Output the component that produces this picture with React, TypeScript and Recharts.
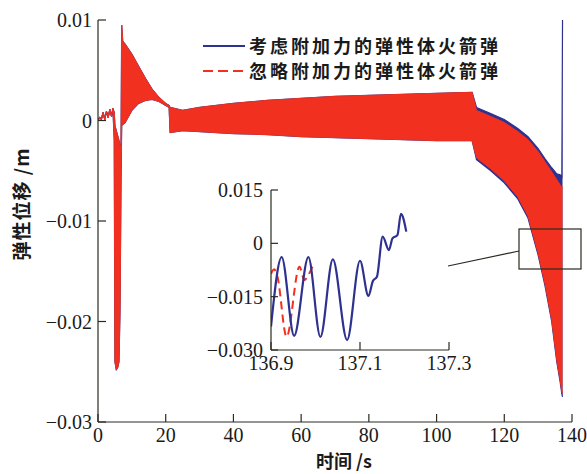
import React from 'react';
import { ComposedChart, Area, XAxis, YAxis, LineChart, Line } from 'recharts';

// ---------- main chart data (envelopes of the oscillating responses) ----------
const times = [0, 0.5, 1.0, 1.5, 2.0, 2.5, 3.0, 3.5, 4.0, 4.4, 4.8, 5.0, 5.4, 5.8, 6.2, 6.5, 6.8, 7.0, 7.3, 8, 10, 12, 14, 16, 18, 20, 21, 21.3, 25, 30, 40, 50, 60, 70, 80, 90, 100, 110.5, 111.8, 116, 120, 124, 127, 130, 132, 134, 135.5, 136.5, 137.0, 137.2];
const redHi = [0, 0.0003, 0.0001, 0.0008, 0.0001, 0.0009, 0.0003, 0.0011, 0.0004, 0.0012, 0.0008, -0.0005, -0.001, -0.0015, -0.002, -0.0025, -0.0025, 0.0095, 0.0079, 0.0076, 0.0066, 0.0054, 0.0042, 0.0031, 0.0023, 0.0017, 0.0015, 0.0013, 0.001, 0.0013, 0.0017, 0.002, 0.0022, 0.0024, 0.0025, 0.0026, 0.0027, 0.0028, 0.001, 0.0004, -0.0002, -0.0011, -0.0019, -0.0031, -0.0041, -0.0051, -0.0059, -0.0064, -0.0066, -0.0066];
const redLo = [0, 0.0003, 0.0001, 0.0008, 0.0001, 0.0009, 0.0003, 0.0011, 0.0004, 0.0012, -0.002, -0.024, -0.0248, -0.0246, -0.024, -0.019, -0.006, -0.0005, -0.0004, -0.0002, 0.001, 0.0017, 0.002, 0.0021, 0.0019, 0.0015, 0.0013, -0.0012, -0.001, -0.0011, -0.0013, -0.0014, -0.0016, -0.0017, -0.0018, -0.0019, -0.002, -0.002, -0.0037, -0.0048, -0.006, -0.0076, -0.0095, -0.0132, -0.0162, -0.0198, -0.0238, -0.0258, -0.027, -0.0272];
const blueHi = [0, 0.0003, 0.0001, 0.0008, 0.0001, 0.0009, 0.0003, 0.0011, 0.0004, 0.0012, 0.0008, -0.0005, -0.001, -0.0015, -0.002, -0.0025, -0.0025, 0.0095, 0.0079, 0.0076, 0.0066, 0.0054, 0.0042, 0.0031, 0.0023, 0.0017, 0.0015, 0.0013, 0.001, 0.0013, 0.0017, 0.002, 0.0022, 0.0024, 0.0025, 0.0026, 0.0027, 0.0028, 0.0013, 0.0007, 0.0001, -0.0008, -0.0016, -0.0028, -0.0038, -0.0047, -0.0053, -0.0054, -0.0056, 0.01];
const blueLo = [0, 0.0003, 0.0001, 0.0008, 0.0001, 0.0009, 0.0003, 0.0011, 0.0004, 0.0012, -0.002, -0.024, -0.0248, -0.0246, -0.024, -0.019, -0.006, -0.0005, -0.0004, -0.0002, 0.001, 0.0017, 0.002, 0.0021, 0.0019, 0.0015, 0.0013, -0.0012, -0.001, -0.0011, -0.0013, -0.0014, -0.0016, -0.0017, -0.0018, -0.0019, -0.002, -0.002, -0.0039, -0.005, -0.0062, -0.0078, -0.0097, -0.0134, -0.0164, -0.02, -0.024, -0.026, -0.0272, -0.0275];

const xTicks = [0, 20, 40, 60, 80, 100, 120, 140];
const yTicks = [-0.03, -0.02, -0.01, 0, 0.01];
const yTickLabels = ['\u22120.03', '\u22120.02', '\u22120.01', '0', '0.01'];

// ---------- inset data ----------
const insetBlueT = [136.9, 136.924, 136.952, 136.984, 137.011, 137.039, 137.071, 137.1, 137.119, 137.129, 137.138, 137.151, 137.165, 137.173, 137.184, 137.192, 137.204];
const insetBlueV = [-0.0234, -0.0039, -0.026, -0.0039, -0.0263, -0.0045, -0.0272, -0.0049, -0.0148, -0.0106, -0.0094, 0.0019, -0.0019, 0.0014, 0.0023, 0.0083, 0.0033];
const insetRedT = [136.9, 136.907, 136.914, 136.935, 136.964, 136.975, 136.984, 136.994];
const insetRedV = [-0.0086, -0.0073, -0.0091, -0.0263, -0.0066, -0.0103, -0.0089, -0.0063];

const insetXTicks = [136.9, 137.1, 137.3];
const insetXLabels = ['136.9', '137.1', '137.3'];
const insetYTicks = [-0.03, -0.015, 0, 0.015];
const insetYLabels = ['\u22120.030', '\u22120.015', '0', '0.015'];

const legendNames = ['考虑附加力的弹性体火箭弹', '忽略附加力的弹性体火箭弹'];

const RED = '#f2301f';
const BLUE = '#2e3190';
const AXIS = '#2a2a22';
const SERIF = "'Liberation Serif', 'DejaVu Serif', serif";
const CJK = "'Noto Sans CJK SC', 'Noto Sans', sans-serif";

const mainData = times.map((t, i) => ({ t, red: [redLo[i], redHi[i]], blue: [blueLo[i], blueHi[i]] }));
const insetBlue = insetBlueT.map((t, i) => ({ t, v: insetBlueV[i] }));
const insetRed = insetRedT.map((t, i) => ({ t, v: insetRedV[i] }));

const makeXTick = (labels: string[] | null, ticks: number[], len: number) => (props: any) => {
  const { x, y, payload } = props;
  const idx = ticks.indexOf(payload.value);
  const label = labels ? labels[idx] : String(payload.value);
  return (
    <g>
      <line x1={x} y1={y} x2={x} y2={y - len} stroke={AXIS} strokeWidth={1.2} />
      <text x={x} y={y + 20} textAnchor="middle" fontFamily={SERIF} fontSize={20} fill="#1a1a1a">{label}</text>
    </g>
  );
};

const makeYTick = (labels: string[], ticks: number[], len: number, gap: number) => (props: any) => {
  const { x, y, payload } = props;
  const idx = ticks.indexOf(payload.value);
  return (
    <g>
      <line x1={x} y1={y} x2={x + len} y2={y} stroke={AXIS} strokeWidth={1.2} />
      <text x={x - gap} y={y + 7} textAnchor="end" fontFamily={SERIF} fontSize={20} fill="#1a1a1a">{labels[idx]}</text>
    </g>
  );
};

export default function App() {
  return (
    <div style={{ position: 'absolute', left: 0, top: 0, width: 587, height: 474, background: '#fff', overflow: 'hidden' }}>
      <div style={{ position: 'absolute', left: 0, top: 0 }}>
        <ComposedChart width={587} height={474} data={mainData} margin={{ top: 20, right: 15, bottom: 22, left: 38 }}>
          <XAxis dataKey="t" type="number" domain={[0, 140]} ticks={xTicks} height={30} tickSize={0} tickMargin={0}
            tickLine={false} axisLine={{ stroke: AXIS, strokeWidth: 1.2 }} tick={makeXTick(null, xTicks, 8)} interval={0} allowDataOverflow />
          <YAxis type="number" domain={[-0.03, 0.01]} ticks={yTicks} width={60} tickSize={0} tickMargin={0}
            tickLine={false} axisLine={{ stroke: AXIS, strokeWidth: 1.2 }} tick={makeYTick(yTickLabels, yTicks, 8, 6)} interval={0} allowDataOverflow />
          <Area dataKey="blue" type="linear" stroke={BLUE} strokeWidth={1.2} fill={BLUE} fillOpacity={1} isAnimationActive={false} dot={false} activeDot={false} />
          <Area dataKey="red" type="linear" stroke={RED} strokeWidth={1} fill={RED} fillOpacity={1} isAnimationActive={false} dot={false} activeDot={false} />
        </ComposedChart>
      </div>
      <svg width={587} height={474} style={{ position: 'absolute', left: 0, top: 0, pointerEvents: 'none' }}>
        <line x1={203} y1={46} x2={245} y2={46} stroke={BLUE} strokeWidth={2} />
        <text x={249} y={53} style={{ fontFamily: CJK, fontSize: 18, fontWeight: 700, letterSpacing: 3 }} fill="#1a1a1a">{legendNames[0]}</text>
        <line x1={203} y1={71} x2={245} y2={71} stroke={RED} strokeWidth={2} strokeDasharray="10 5" />
        <text x={249} y={78} style={{ fontFamily: CJK, fontSize: 18, fontWeight: 700, letterSpacing: 3 }} fill="#1a1a1a">{legendNames[1]}</text>
        <rect x={519} y={229} width={62} height={40} fill="none" stroke={AXIS} strokeWidth={1.2} />
        <line x1={448} y1={266} x2={519} y2={251} stroke={AXIS} strokeWidth={1.2} />
        <text x={344} y={468} textAnchor="middle" style={{ fontFamily: CJK, fontSize: 18, fontWeight: 700 }} fill="#1a1a1a">时间 /s</text>
        <text x={20} y={204} textAnchor="middle" dominantBaseline="central" style={{ fontFamily: CJK, fontSize: 19, fontWeight: 700, letterSpacing: 1 }} fill="#1a1a1a" transform="rotate(-90, 20, 204)">弹性位移 /m</text>
      </svg>
      <div style={{ position: 'absolute', left: 191, top: 175 }}>
        <LineChart width={300} height={200} margin={{ top: 15, right: 42, bottom: 0, left: 0 }}>
          <XAxis dataKey="t" type="number" domain={[136.9, 137.3]} ticks={insetXTicks} height={25} tickSize={0} tickMargin={0}
            tickLine={false} axisLine={{ stroke: AXIS, strokeWidth: 1.2 }} tick={makeXTick(insetXLabels, insetXTicks, 8)} interval={0} allowDataOverflow />
          <YAxis type="number" domain={[-0.03, 0.015]} ticks={insetYTicks} width={80} tickSize={0} tickMargin={0}
            tickLine={false} axisLine={{ stroke: AXIS, strokeWidth: 1.2 }} tick={makeYTick(insetYLabels, insetYTicks, 7, 8)} interval={0} allowDataOverflow />
          <Line data={insetRed} dataKey="v" type="monotone" stroke={RED} strokeWidth={2} strokeDasharray="8 5" dot={false} activeDot={false} isAnimationActive={false} />
          <Line data={insetBlue} dataKey="v" type="monotone" stroke={BLUE} strokeWidth={2.2} dot={false} activeDot={false} isAnimationActive={false} />
        </LineChart>
      </div>
    </div>
  );
}
